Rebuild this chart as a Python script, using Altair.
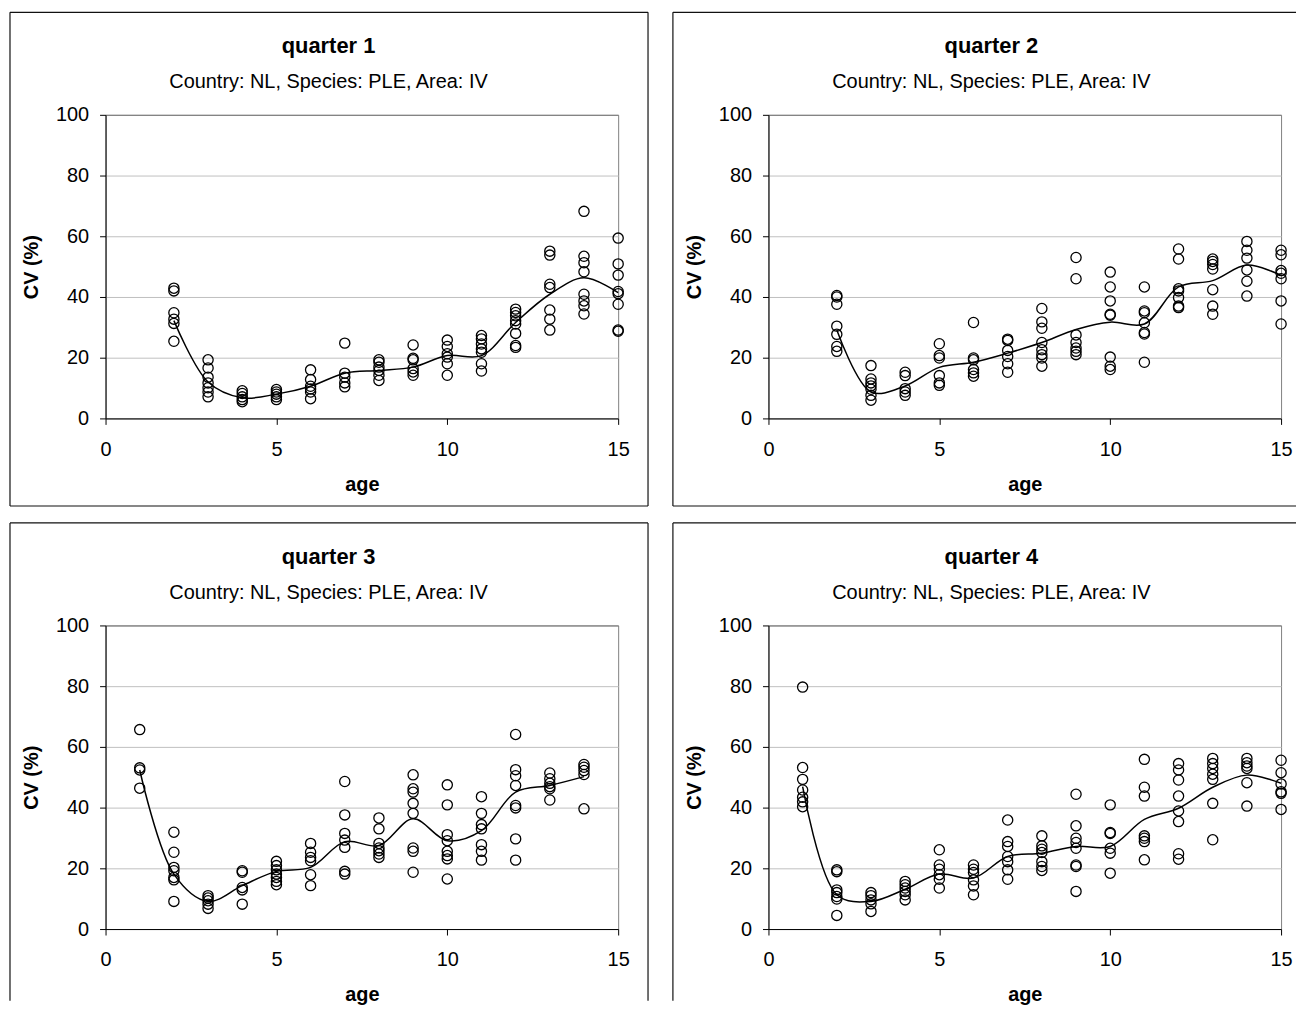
import altair as alt
import pandas as pd

FONT = "Liberation Sans"
SUBTITLE = "Country: NL, Species: PLE, Area: IV"
X_TICKS = [0, 5, 10, 15]
Y_TICKS = [0, 20, 40, 60, 80, 100]

# ---------------- quarter 1 ----------------
Q1_TITLE = "quarter 1"
Q1_AGES = [2, 3, 4, 5, 6, 7, 8, 9, 10, 11, 12, 13, 14, 15]
Q1_CV = [
    [42.9, 42.0, 34.8, 32.7, 31.3, 25.4],
    [19.3, 16.6, 13.6, 11.7, 10.1, 8.7, 7.1],
    [9.1, 8.2, 7.1, 6.2, 5.5],
    [9.5, 8.7, 8.0, 7.1, 6.2],
    [16.0, 12.8, 10.6, 9.7, 8.7, 6.5],
    [24.8, 14.9, 13.6, 11.7, 10.4],
    [19.3, 18.5, 16.9, 15.8, 14.2, 12.5],
    [24.2, 19.8, 19.3, 16.4, 15.3, 14.2],
    [25.8, 23.7, 21.3, 20.2, 18.0, 14.2],
    [27.3, 26.2, 24.5, 22.9, 21.8, 18.0, 15.6],
    [36.0, 34.9, 33.8, 32.2, 31.1, 28.0, 24.0, 23.4],
    [55.1, 53.8, 44.2, 43.1, 35.7, 32.7, 29.1],
    [68.2, 53.4, 51.3, 48.3, 40.9, 38.7, 37.1, 34.4],
    [59.4, 50.9, 47.2, 41.8, 41.1, 37.6, 29.1, 28.7],
]
Q1_LINE = [32.2, 12.0, 6.8, 8.0, 10.6, 14.9, 15.8, 16.9, 20.7, 20.7, 31.6, 40.9, 46.3, 41.4]

# ---------------- quarter 2 ----------------
Q2_TITLE = "quarter 2"
Q2_AGES = [2, 3, 4, 5, 6, 7, 8, 9, 10, 11, 12, 13, 14, 15]
Q2_CV = [
    [40.5, 40.0, 37.6, 30.4, 27.7, 23.7, 22.1],
    [17.4, 13.0, 11.7, 10.7, 9.6, 7.6, 6.0],
    [15.2, 14.1, 9.8, 8.7, 7.6],
    [24.6, 20.7, 19.9, 14.1, 11.7, 10.9],
    [31.6, 19.9, 19.3, 16.1, 15.0, 13.9],
    [26.1, 25.7, 22.4, 20.4, 18.0, 15.2],
    [36.2, 31.8, 29.7, 25.0, 22.6, 21.0, 19.9, 17.2],
    [53.0, 46.0, 27.5, 25.0, 23.2, 22.1, 21.0],
    [48.2, 43.3, 38.7, 34.3, 34.0, 20.2, 17.2, 16.1],
    [43.3, 35.4, 34.8, 31.5, 28.3, 27.8, 18.5],
    [55.8, 52.5, 42.7, 42.0, 39.8, 37.0, 36.5],
    [52.5, 51.7, 50.7, 49.2, 42.4, 37.0, 34.3],
    [58.3, 55.4, 52.8, 48.9, 45.2, 40.3],
    [55.4, 53.9, 48.7, 47.8, 46.0, 38.7, 31.1],
]
Q2_LINE = [29.1, 8.7, 10.7, 16.8, 18.5, 21.5, 25.0, 29.3, 31.7, 31.1, 43.3, 45.4, 50.5, 47.1]

# ---------------- quarter 3 ----------------
Q3_TITLE = "quarter 3"
Q3_AGES = [1, 2, 3, 4, 5, 6, 7, 8, 9, 10, 11, 12, 13, 14]
Q3_CV = [
    [65.7, 53.1, 52.4, 46.4],
    [31.9, 25.3, 20.3, 19.2, 17.0, 16.2, 9.1],
    [11.0, 10.2, 9.3, 8.2, 6.8],
    [19.2, 18.7, 13.7, 12.9, 8.2],
    [22.3, 20.9, 19.5, 18.1, 17.0, 15.7, 14.6],
    [28.2, 25.3, 23.6, 22.5, 17.9, 14.3],
    [48.6, 37.6, 31.5, 29.3, 26.9, 19.0, 18.1],
    [36.6, 33.0, 28.2, 26.7, 25.8, 24.7, 23.6],
    [50.8, 46.2, 45.1, 41.4, 38.1, 26.7, 25.6, 18.7],
    [47.5, 40.9, 31.1, 29.1, 25.6, 24.2, 23.1, 16.5],
    [43.6, 38.1, 34.4, 33.0, 27.8, 25.6, 22.7],
    [64.1, 52.5, 50.5, 47.3, 40.7, 39.9, 29.7, 22.7],
    [51.4, 49.5, 48.0, 46.9, 46.2, 42.5],
    [54.2, 53.3, 52.2, 50.9, 39.6],
]
Q3_LINE = [52.4, 18.1, 9.1, 14.3, 19.0, 20.3, 28.8, 27.5, 36.3, 29.1, 32.4, 45.1, 47.3, 50.2]

# ---------------- quarter 4 ----------------
Q4_TITLE = "quarter 4"
Q4_AGES = [1, 2, 3, 4, 5, 6, 7, 8, 9, 10, 11, 12, 13, 14, 15]
Q4_CV = [
    [79.7, 53.2, 49.3, 45.8, 43.4, 41.9, 40.3],
    [19.5, 18.9, 12.9, 12.0, 10.7, 9.9, 4.5],
    [12.0, 11.0, 9.6, 8.3, 5.8],
    [15.7, 14.6, 13.5, 12.4, 11.3, 9.6],
    [26.1, 21.1, 19.7, 17.9, 16.4, 13.5],
    [21.1, 19.7, 18.6, 16.2, 14.2, 11.3],
    [35.9, 28.8, 27.2, 23.9, 22.2, 19.5, 16.4],
    [30.7, 27.4, 26.3, 25.2, 22.2, 20.6, 19.3],
    [44.4, 34.0, 29.9, 28.5, 26.6, 21.1, 20.6, 12.4],
    [40.9, 31.8, 31.5, 26.6, 25.0, 18.4],
    [55.9, 46.7, 43.8, 30.7, 29.9, 28.8, 22.8],
    [54.5, 52.4, 49.1, 43.8, 38.9, 35.4, 24.8, 23.0],
    [56.2, 54.5, 52.9, 51.0, 49.3, 41.4, 29.4],
    [56.2, 54.8, 53.7, 52.9, 48.2, 40.5],
    [55.6, 51.5, 47.8, 45.2, 44.7, 39.4],
]
Q4_LINE = [46.9, 11.3, 9.1, 13.1, 18.1, 16.8, 23.9, 25.0, 27.2, 27.2, 36.1, 39.8, 46.7, 50.7, 48.0]

W, H = 515, 305
BOX_L, BOX_T = -96, -103


def one_row():
    return pd.DataFrame({"k": [0]})


def rule(**enc):
    return alt.Chart(one_row()).mark_rule(color="#111111", strokeWidth=1.2).encode(
        **{k: alt.value(v) for k, v in enc.items()}
    )


def panel(title, ages, cv_lists, line_vals, right_col, bottom_row):
    pts = pd.DataFrame(
        [{"age": a, "cv": v} for a, vals in zip(ages, cv_lists) for v in vals]
    )
    ln = pd.DataFrame({"age": ages, "cv": line_vals})

    x = alt.X(
        "age:Q",
        scale=alt.Scale(domain=[0, 15], nice=False, zero=False),
        axis=alt.Axis(
            values=X_TICKS, title="age", grid=False, labelFlush=False,
            labelPadding=15, titlePadding=15, tickSize=6,
        ),
    )
    y = alt.Y(
        "cv:Q",
        scale=alt.Scale(domain=[0, 100], nice=False),
        axis=alt.Axis(
            values=Y_TICKS, title="CV (%)", grid=True,
            gridColor={"condition": {"test": "datum.value === 100", "value": "#808080"},
                       "value": "#c0c0c0"},
            labelPadding=11, titlePadding=14, tickSize=6,
        ),
    )

    line = alt.Chart(ln).mark_line(
        interpolate="catmull-rom", color="black", strokeWidth=1.5
    ).encode(x=x, y=y)
    points = alt.Chart(pts).mark_point(
        shape="circle", filled=False, size=105, color="black", strokeWidth=1.3, opacity=1
    ).encode(x=x, y=y)

    right = W + 15 if right_col else W + 30
    bottom = H + 72 if bottom_row else H + 88
    layers = [
        rule(x=BOX_L, y=BOX_T, y2=bottom),
        rule(x=BOX_L, x2=right, y=BOX_T),
    ]
    if not right_col:
        layers.append(rule(x=right, y=BOX_T, y2=bottom))
    if not bottom_row:
        layers.append(rule(x=BOX_L, x2=right, y=bottom))

    t1 = alt.Chart(one_row()).mark_text(
        font=FONT, fontSize=22, fontWeight="bold", align="center", baseline="middle", color="black"
    ).encode(x=alt.value(224), y=alt.value(-69), text=alt.value(title))
    t2 = alt.Chart(one_row()).mark_text(
        font=FONT, fontSize=20, align="center", baseline="middle", color="black"
    ).encode(x=alt.value(224), y=alt.value(-33), text=alt.value(SUBTITLE))

    return alt.layer(*layers, t1, t2, line, points).properties(width=W, height=H)


p1 = panel(Q1_TITLE, Q1_AGES, Q1_CV, Q1_LINE, False, False)
p2 = panel(Q2_TITLE, Q2_AGES, Q2_CV, Q2_LINE, True, False)
p3 = panel(Q3_TITLE, Q3_AGES, Q3_CV, Q3_LINE, False, True)
p4 = panel(Q4_TITLE, Q4_AGES, Q4_CV, Q4_LINE, True, True)

chart = (
    alt.concat(p1, p2, p3, p4, columns=2, spacing={"row": 13, "column": 21})
    .properties(padding=0, background="white")
    .configure_view(stroke="#808080", strokeWidth=1)
    .configure_axis(
        labelFont=FONT, labelFontSize=20, labelColor="black",
        titleFont=FONT, titleFontSize=20, titleFontWeight="bold", titleColor="black",
        domainColor="black", tickColor="black", domainWidth=1, tickWidth=1,
    )
)

chart.save("out.html", embed_options={"renderer": "svg", "actions": False})
